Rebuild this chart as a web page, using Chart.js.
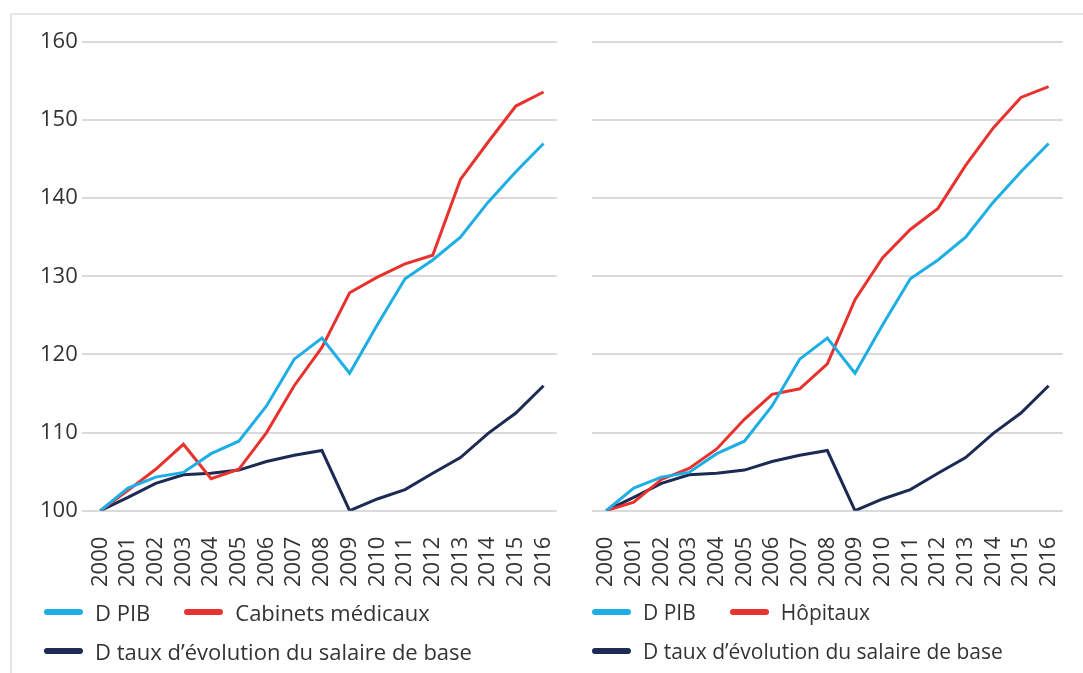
<!DOCTYPE html>
<html lang="fr">
<head>
<meta charset="UTF-8">
<title>Évolution indice 2000 = 100</title>
<script src="https://cdn.jsdelivr.net/npm/chart.js"></script>
<style>
    html, body { margin: 0; padding: 0; background: #fff; }
    body { width: 1083px; height: 673px; position: relative; overflow: hidden; font-family: "Open Sans", sans-serif; color: #333; }
    #frame { position: absolute; left: 10px; top: 13px; right: 0; bottom: 0; border-top: 2px solid #e6e6e6; border-left: 2px solid #e6e6e6; }
    .panel { position: absolute; top: 0; height: 605px; }
    #leftPanel { left: 0; width: 588px; }
    #rightPanel { left: 560px; width: 533px; }
    .legend { position: absolute; font-size: 22px; }
    .legend .row { display: flex; align-items: center; height: 20px; margin-bottom: 19px; }
    .legend .item { display: flex; align-items: center; margin-right: 34px; white-space: nowrap; }
    .legend .swatch { width: 39px; height: 6px; border-radius: 3px; margin-right: 12px; }
    #legendRight { font-size: 21px; }
</style>
</head>
<body>
<div id="frame"></div>
<div class="panel" id="leftPanel"><canvas id="chartLeft"></canvas></div>
<div class="panel" id="rightPanel"><canvas id="chartRight"></canvas></div>
<div class="legend" id="legendLeft" style="left:44px; top:602px;"></div>
<div class="legend" id="legendRight" style="left:592px; top:602px;"></div>

<script>
// data, index 2000 = 100
var years = [2000, 2001, 2002, 2003, 2004, 2005, 2006, 2007, 2008, 2009, 2010, 2011, 2012, 2013, 2014, 2015, 2016];
var pib = [100, 102.9, 104.3, 104.9, 107.3, 108.9, 113.4, 119.4, 122.1, 117.6, 123.8, 129.7, 132.1, 135.0, 139.5, 143.4, 147.0];
var salaire = [100, 101.7, 103.5, 104.6, 104.8, 105.2, 106.3, 107.1, 107.7, 100.0, 101.5, 102.7, 104.8, 106.8, 109.9, 112.5, 116.0];
var cabinets = [100, 102.6, 105.3, 108.5, 104.1, 105.3, 110.0, 116.0, 120.9, 127.9, 129.9, 131.6, 132.7, 142.4, 147.2, 151.8, 153.6];
var hopitaux = [100, 101.1, 104.0, 105.4, 107.9, 111.7, 114.9, 115.6, 118.8, 127.0, 132.4, 136.0, 138.7, 144.2, 149.0, 152.9, 154.3];
var yTicks = [100, 110, 120, 130, 140, 150, 160];

var cyan = '#1eaee6';
var red = '#e8322e';
var navy = '#1c2a54';

function points(values) {
    return years.map(function (y, i) { return { x: y, y: values[i] }; });
}

function makeChart(canvasId, legendId, redLabel, redValues, showY, xMin, xMax, pad) {
    var datasets = [
        { label: 'D PIB', data: points(pib), borderColor: cyan },
        { label: redLabel, data: points(redValues), borderColor: red },
        { label: 'D taux d\u2019évolution du salaire de base', data: points(salaire), borderColor: navy }
    ];
    datasets.forEach(function (d) {
        d.borderWidth = 3;
        d.pointRadius = 0;
        d.tension = 0;
        d.fill = false;
        d.borderJoinStyle = 'miter';
    });

    new Chart(document.getElementById(canvasId), {
        type: 'line',
        data: { datasets: datasets },
        options: {
            responsive: true,
            maintainAspectRatio: false,
            animation: false,
            layout: { padding: pad },
            plugins: { legend: { display: false }, tooltip: { enabled: false } },
            scales: {
                x: {
                    type: 'linear',
                    min: xMin,
                    max: xMax,
                    afterBuildTicks: function (axis) {
                        axis.ticks = years.map(function (y) { return { value: y }; });
                    },
                    grid: { display: false },
                    border: { display: false },
                    ticks: {
                        autoSkip: false,
                        minRotation: 90,
                        maxRotation: 90,
                        padding: 18,
                        color: '#333',
                        font: { family: 'Open Sans', size: 22 },
                        callback: function (v) { return String(v); }
                    }
                },
                y: {
                    min: 100,
                    max: 160,
                    afterBuildTicks: function (axis) {
                        axis.ticks = yTicks.map(function (v) { return { value: v }; });
                    },
                    grid: { color: '#dadada', lineWidth: 2, drawTicks: false },
                    border: { display: false },
                    ticks: {
                        display: showY,
                        padding: 4,
                        color: '#333',
                        font: { family: 'Open Sans', size: 22 }
                    }
                }
            }
        }
    });

    // legend: two items on the first row, the wage line below
    var legend = document.getElementById(legendId);
    var rows = [[datasets[0], datasets[1]], [datasets[2]]];
    rows.forEach(function (row) {
        var r = document.createElement('div');
        r.className = 'row';
        row.forEach(function (d) {
            var item = document.createElement('div');
            item.className = 'item';
            var sw = document.createElement('span');
            sw.className = 'swatch';
            sw.style.background = d.borderColor;
            var txt = document.createElement('span');
            txt.textContent = d.label;
            item.appendChild(sw);
            item.appendChild(txt);
            r.appendChild(item);
        });
        legend.appendChild(r);
    });
}

makeChart('chartLeft', 'legendLeft', 'Cabinets médicaux', cabinets, true, 1999.33, 2016.48,
    { left: 36, right: 2, top: 42, bottom: 0 });
makeChart('chartRight', 'legendRight', 'Hôpitaux', hopitaux, false, 1999.49, 2016.51,
    { left: 32, right: 0, top: 42, bottom: 0 });
</script>
</body>
</html>
